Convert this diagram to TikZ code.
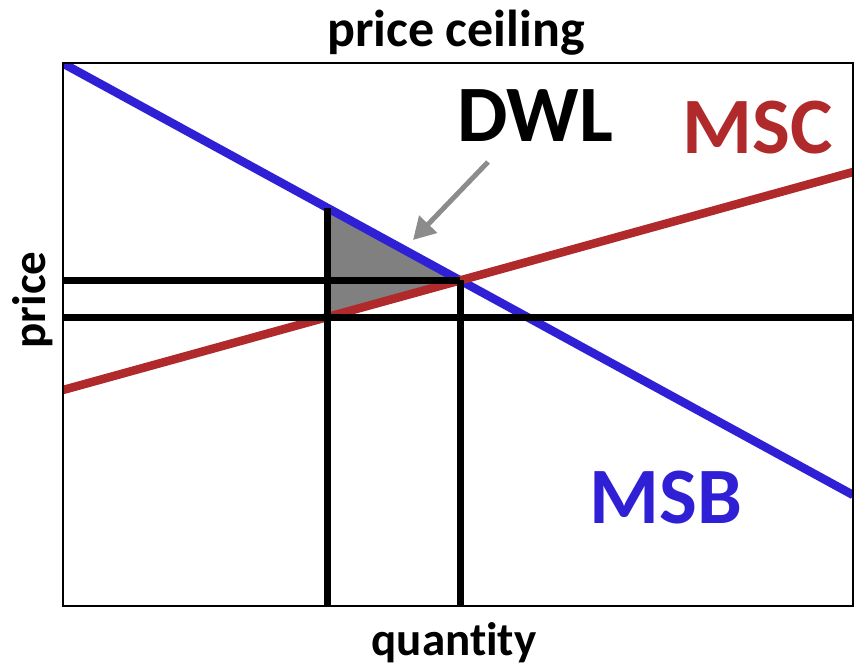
\documentclass[tikz,border=0pt]{standalone}
\usepackage{fontspec}
\setmainfont{Carlito}[Ligatures=NoCommon]
\usetikzlibrary{arrows.meta, positioning}
\usepackage{xcolor}
\definecolor{msb}{HTML}{2F20D6}
\definecolor{msc}{HTML}{B0292B}
\definecolor{dwlfill}{HTML}{808080}
\definecolor{pointer}{HTML}{8C8C8C}
\tikzset{
  frame/.style={draw=black, line width=2.2pt},
  curve/.style={line width=8.5pt},
  guide/.style={draw=black, line width=7pt},
  axlbl/.style={font=\fontsize{47}{56}\selectfont\bfseries, anchor=base, inner sep=0pt},
  ttl/.style={font=\fontsize{52}{62}\selectfont\bfseries, anchor=base, inner sep=0pt},
  big/.style={font=\fontsize{80}{96}\selectfont\bfseries, anchor=base, inner sep=0pt},
  ptr/.style={-{Triangle[length=22pt, width=24pt]}, draw=pointer, line width=5pt},
}

\begin{document}
\begin{tikzpicture}[x=1pt, y=-1pt]
\useasboundingbox (0,0) rectangle (859,668);

% ---- frame and curve ends ----
\coordinate (o)  at (63,606);
\coordinate (ne) at (853,63);
\coordinate (msbl) at (64,64);
\coordinate (msbr) at (853,495);
\coordinate (mscl) at (63,390);
\coordinate (mscr) at (853,172);
\coordinate (cl) at (63,317);
\coordinate (cr) at (853,317);

% ---- derived points ----
\coordinate (eq) at (intersection of msbl--msbr and mscl--mscr);
\coordinate (qc) at (intersection of mscl--mscr and cl--cr);
\coordinate (qcup) at (qc |- ne);
\coordinate (pk) at (intersection of msbl--msbr and qc--qcup);

% ---- dwl triangle ----
\fill[dwlfill] (pk) -- (eq) -- (qc) -- cycle;
\draw[white, line width=0.6pt, dash pattern=on 1pt off 1pt] (pk) -- (eq) -- (qc);

% ---- curves ----
\begin{scope}
  \clip (o) rectangle (ne);
  \draw[curve, msb] (msbl) -- (msbr);
  \draw[curve, msc] (mscl) -- (mscr);
\end{scope}

% ---- guides ----
\draw[guide] (cl) -- (cr);
\draw[guide] (eq -| o) -- (eq);
\draw[guide] (pk) -- (pk |- o);
\draw[guide] (eq) -- (eq |- o);

\draw[frame] (o) rectangle (ne);

% ---- labels ----
\node[ttl] (title) at (456,47) {price ceiling};
\node[axlbl] (xlab) at (454,655) {quantity};
\node[axlbl, rotate=90] (ylab) at (45,300) {price};
\node[big] (dwl) at (535,142) {DWL};
\node[big, text=msc] (msclbl) at (758,154) {MSC};
\node[big, text=msb] (msblbl) at (666,523) {MSB};

\coordinate (ptrs) at (488,162);
\coordinate (tip) at (413,240);
\draw[ptr] (ptrs) -- (tip);
\end{tikzpicture}
\end{document}
